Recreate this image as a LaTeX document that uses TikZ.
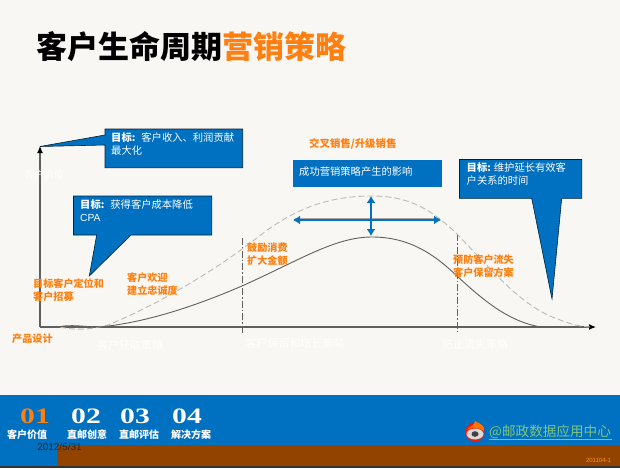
\documentclass[tikz,border=0pt]{standalone}
\usepackage{fontspec}
\setmainfont{Noto Sans CJK SC}
\newfontfamily\serifnum{Liberation Serif}
\newfontfamily\latinsans{Liberation Sans}
\usetikzlibrary{arrows.meta,calc}
\definecolor{bgc}{HTML}{F9F7F3}
\definecolor{bluec}{HTML}{0070C0}
\definecolor{orangec}{HTML}{FF7F10}
\definecolor{brownc}{HTML}{934300}
\definecolor{darkline}{HTML}{606060}
\definecolor{dashc}{HTML}{BBBBB5}
\definecolor{linkc}{HTML}{7FC77F}
\tikzset{
  txt/.style={inner sep=0pt,anchor=west,align=left},
  orangelabel/.style={txt,text=orangec,font=\bfseries\fontsize{10.1}{12.7}\selectfont},
  whitelabel/.style={inner sep=0pt,text=white,font=\fontsize{11}{12}\selectfont},
  bluebox/.style={fill=bluec,draw=black!70!bluec,line width=0.6pt,line join=miter},
  calloutText/.style={txt,text=white,font=\fontsize{10.3}{13}\selectfont},
  axisline/.style={draw=darkline,line width=1.2pt,-{Latex[length=7pt,width=6pt,black]}},
  divider/.style={draw=darkline,line width=0.7pt,dash pattern=on 7pt off 2pt on 1.5pt off 2pt},
  bluearrow/.style={draw=bluec,line width=2.3pt,{Latex[length=7pt,width=9pt]}-{Latex[length=7pt,width=9pt]}},
  stepnum/.style={inner sep=0pt,font=\serifnum\bfseries\fontsize{22}{22}\selectfont},
  stepname/.style={inner sep=0pt,text=white,font=\bfseries\fontsize{10}{11}\selectfont}
}
\begin{document}
\begin{tikzpicture}[x=1pt,y=-1pt]
\useasboundingbox (0,0) rectangle (620,468);
\fill[bgc] (0,0) rectangle (620,468);
% title
\node[txt,font=\bfseries\fontsize{31}{36}\selectfont] (title) at (36,47) {客户生命周期\textcolor{orangec}{营销策略}};
% axes
\coordinate (origin) at (40,327);
\coordinate (ytip) at (40,146);
\coordinate (xtip) at (596,327);
\draw[axisline] (origin) -- (ytip);
\draw[axisline] (origin) -- (xtip);
% dividers
\coordinate (d1t) at (242,238); \coordinate (d1b) at (242,334);
\coordinate (d2t) at (457,234); \coordinate (d2b) at (457,332);
\draw[divider] (d1t) -- (d1b);
\draw[divider] (d2t) -- (d2b);
% dashed curve
\draw[dashc,line width=0.9pt,dash pattern=on 6pt off 3pt]
  (60,327) .. controls (78,331) and (92,329) .. (108,325)
  .. controls (150,308) and (210,275) .. (262,234)
  .. controls (300,205) and (335,196) .. (372,196)
  .. controls (410,196) and (432,210) .. (457,234)
  .. controls (490,268) and (520,305) .. (555,318)
  .. controls (570,324) and (580,327) .. (592,327);
% solid curve
\draw[darkline,line width=0.9pt]
  (58,327) .. controls (70,324) and (85,327) .. (100,327)
  .. controls (150,322) and (200,304) .. (242,286)
  .. controls (300,260) and (335,237) .. (372,237)
  .. controls (410,237) and (435,255) .. (457,276)
  .. controls (485,302) and (510,322) .. (541,327);
% blue arrows
\coordinate (hl) at (293,220); \coordinate (hr) at (441,220);
\coordinate (vt) at (371,196); \coordinate (vb) at (371,236);
\coordinate (gl) at (295,218.5); \coordinate (gr) at (440,218.5);
\draw[black!35,line width=1pt] (gl) -- (gr);
\draw[bluearrow] (hl) -- (hr);
\draw[bluearrow] (vt) -- (vb);
% callouts
\draw[bluebox] (105,129) -- (242.7,129) -- (242.7,167.7) -- (105,167.7) -- (105,145) -- (40,146.5) -- (105,135) -- cycle;
\node[calloutText,anchor=north west,text width=130pt] (c1) at (111,132.5) {\textbf{目标:}\hspace{6pt}客户收入、利润贡献\\最大化};
\draw[bluebox] (73.5,196) -- (211.7,196) -- (211.7,235) -- (131,235) -- (89.3,276) -- (96.7,235) -- (73.5,235) -- cycle;
\node[calloutText,anchor=north west,text width=130pt] (c2) at (80,199) {\textbf{目标:}\hspace{6pt}获得客户成本降低\\{\latinsans CPA}};
\draw[bluebox] (459.5,159.5) -- (581.7,159.5) -- (581.7,198.3) -- (561.7,198.3) -- (552,299) -- (531.7,198.3) -- (459.5,198.3) -- cycle;
\node[calloutText,anchor=north west,text width=118pt] (c3) at (466.5,162.5) {\textbf{目标:}\hspace{3pt}维护延长有效客\\户关系的时间};
\node[fill=bluec,minimum width=149pt,minimum height=27pt,inner sep=0pt,anchor=north west] (impact) at (293,160) {};
\node[calloutText] (impactText) at (299,172) {成功营销策略产生的影响};
% orange labels
\node[orangelabel,font=\bfseries\fontsize{10.4}{12.7}\selectfont] (l1) at (309,144) {交叉销售/升级销售};
\node[orangelabel] (l2) at (33,290) {目标客户定位和\\客户招募};
\node[orangelabel] (l3) at (127,284) {客户欢迎\\建立忠诚度};
\node[orangelabel] (l4) at (247,254) {鼓励消费\\扩大金额};
\node[orangelabel] (l5) at (453,266) {预防客户流失\\客户保留方案};
\node[orangelabel] (l6) at (12,339) {产品设计};
% white labels
\node[whitelabel,font=\fontsize{10}{12}\selectfont] (w1) at (44,175) {客户价值};
\node[whitelabel] (w2) at (130,345) {客户获取策略};
\node[whitelabel] (w3) at (295,343) {客户保留和增长策略};
\node[whitelabel] (w4) at (475,344) {防止流失策略};
% footer
\fill[bluec] (0,395) rectangle (620,468);
\fill[brownc] (56.5,445) rectangle (620,466);
\fill[black!80] (0,466) rectangle (620,468);
\node[stepnum,text=orangec] (n1) at (35,416.5) {\scalebox{1.35}[1]{01}};
\node[stepnum,text=white] (n2) at (86,416.5) {\scalebox{1.35}[1]{02}};
\node[stepnum,text=white] (n3) at (135,416.5) {\scalebox{1.35}[1]{03}};
\node[stepnum,text=white] (n4) at (187,416.5) {\scalebox{1.35}[1]{04}};
\node[stepname] (s1) at (27,435) {客户价值};
\node[stepname] (s2) at (87,435) {直邮创意};
\node[stepname] (s3) at (139,435) {直邮评估};
\node[stepname] (s4) at (191,435) {解决方案};
\node[inner sep=0pt,text=black!85,font=\latinsans\fontsize{10}{11}\selectfont] (date) at (59.5,446.5) {2012/5/31};
% weibo mark
\fill[red!85!orange] (475,432) circle (9.5pt);
\fill[orange!90!red] (475,421) .. controls (481,424) and (485,426) .. (484,431) .. controls (480,428) and (471,426) .. (467,430) .. controls (469,426) and (475,426) .. (475,421) -- cycle;
\fill[white!85!black] (475,434) ellipse (8.5pt and 5.5pt);
\fill[black!75] (475,434) ellipse (3.5pt and 2.8pt);
\node[inner sep=0pt,anchor=west,text=linkc,font=\fontsize{13.6}{15}\selectfont] (weibo) at (489,432) {@邮政数据应用中心};
\coordinate (ulA) at (489,439); \coordinate (ulB) at (612,439);
\draw[linkc,line width=0.7pt] (ulA) -- (ulB);
\node[inner sep=0pt,text=orange!80!yellow,font=\latinsans\fontsize{6}{7}\selectfont] (code) at (598.5,460) {201104-1};
\end{tikzpicture}
\end{document}
